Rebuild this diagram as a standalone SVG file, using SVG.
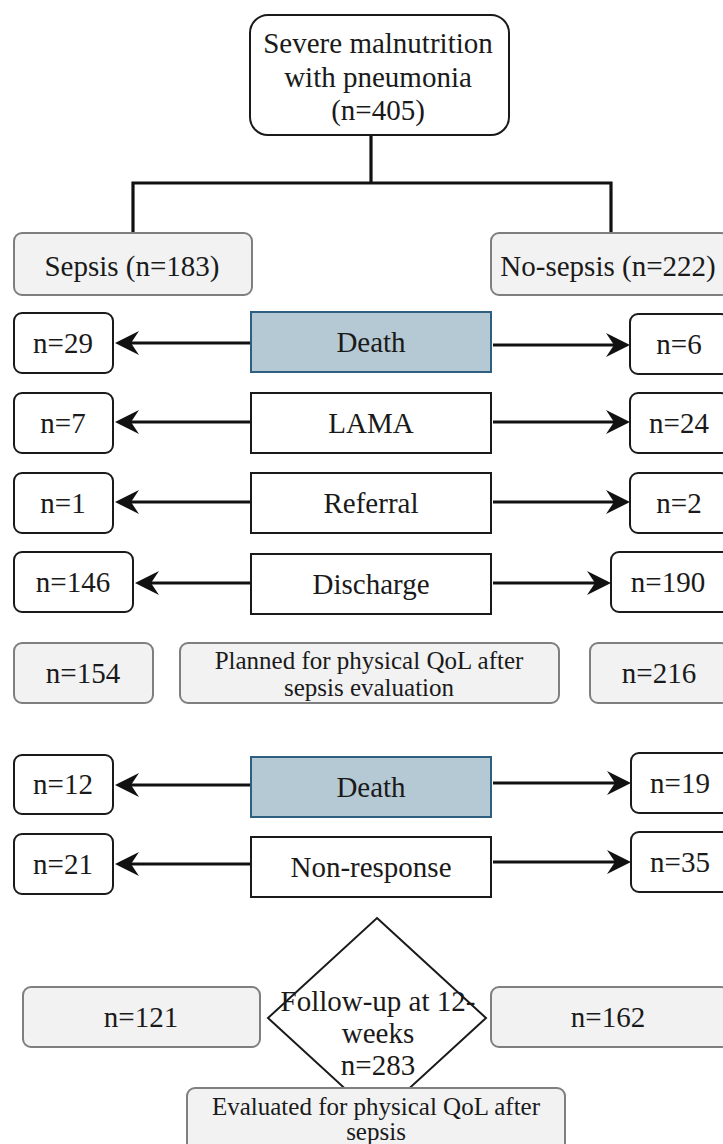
<svg xmlns="http://www.w3.org/2000/svg" width="723" height="1144" viewBox="0 0 723 1144">
<style>
text{font-family:"Liberation Serif","DejaVu Serif",serif;fill:#1a1a1a;text-anchor:middle}
.big{font-size:29px}
.sm{font-size:25px}
.nb{fill:#fff;stroke:#1a1a1a;stroke-width:2}
.gb{fill:#f2f2f2;stroke:#7f7f7f;stroke-width:2}
.db{fill:#b5c9d5;stroke:#2f5f80;stroke-width:2}
.wb{fill:#fff;stroke:#1a1a1a;stroke-width:2}
.ln{fill:none;stroke:#111;stroke-width:3.2}
.ar{fill:none;stroke:#111;stroke-width:3.2;marker-end:url(#ah)}
</style>
<defs>
<marker id="ah" viewBox="0 -12 24 24" refX="8" refY="0" markerWidth="24" markerHeight="24" markerUnits="userSpaceOnUse" orient="auto">
<path d="M24,0 L0,-12 L8,0 L0,12 Z" fill="#111"/>
</marker>
</defs>
<rect width="723" height="1144" fill="#fff"/>

<g id="connectors">
<path class="ln" d="M371,135 V183 M133,183 H611 M133,181.5 V233 M611,181.5 V233"/>
<line class="ar" x1="251" y1="343" x2="131" y2="343"/>
<line class="ar" x1="493" y1="345" x2="614" y2="345"/>
<line class="ar" x1="251" y1="422" x2="131" y2="422"/>
<line class="ar" x1="493" y1="422" x2="614" y2="422"/>
<line class="ar" x1="251" y1="502" x2="131" y2="502"/>
<line class="ar" x1="493" y1="502" x2="614" y2="502"/>
<line class="ar" x1="251" y1="583" x2="151" y2="583"/>
<line class="ar" x1="493" y1="583" x2="595" y2="583"/>
<line class="ar" x1="251" y1="785" x2="131" y2="785"/>
<line class="ar" x1="493" y1="783" x2="615" y2="783"/>
<line class="ar" x1="251" y1="864" x2="131" y2="864"/>
<line class="ar" x1="493" y1="862" x2="615" y2="862"/>
</g>

<g id="root">
<rect x="250" y="15" width="259" height="120" rx="18" class="wb"/>
<text class="big" x="378" y="53">Severe malnutrition</text>
<text class="big" x="378" y="87">with pneumonia</text>
<text class="big" x="378" y="120">(n=405)</text>
</g>

<g id="sepsis"><rect x="14" y="233" width="238" height="62" rx="8" class="gb"/><text class="big" x="132" y="276">Sepsis (n=183)</text></g>
<g id="nosepsis"><rect x="491" y="233" width="238" height="62" rx="8" class="gb"/><text class="big" x="608" y="276">No-sepsis (n=222)</text></g>

<g id="death1"><rect x="251" y="312" width="240" height="60" class="db"/><text class="big" x="371" y="352">Death</text></g>
<g id="s-death1"><rect x="14" y="313" width="99" height="60" rx="8" class="nb"/><text class="big" x="63" y="353">n=29</text></g>
<g id="n-death1"><rect x="630" y="314" width="99" height="60" rx="8" class="nb"/><text class="big" x="679" y="354">n=6</text></g>

<g id="lama"><rect x="251" y="393" width="240" height="60" class="wb"/><text class="big" x="371" y="433">LAMA</text></g>
<g id="s-lama"><rect x="14" y="393" width="99" height="60" rx="8" class="nb"/><text class="big" x="63" y="433">n=7</text></g>
<g id="n-lama"><rect x="630" y="393" width="99" height="60" rx="8" class="nb"/><text class="big" x="679" y="433">n=24</text></g>

<g id="referral"><rect x="251" y="473" width="240" height="60" class="wb"/><text class="big" x="371" y="513">Referral</text></g>
<g id="s-referral"><rect x="14" y="473" width="99" height="60" rx="8" class="nb"/><text class="big" x="63" y="513">n=1</text></g>
<g id="n-referral"><rect x="630" y="473" width="99" height="60" rx="8" class="nb"/><text class="big" x="679" y="513">n=2</text></g>

<g id="discharge"><rect x="251" y="554" width="240" height="60" class="wb"/><text class="big" x="371" y="594">Discharge</text></g>
<g id="s-discharge"><rect x="14" y="552" width="119" height="60" rx="8" class="nb"/><text class="big" x="73" y="592">n=146</text></g>
<g id="n-discharge"><rect x="611" y="552" width="119" height="60" rx="8" class="nb"/><text class="big" x="668" y="592">n=190</text></g>

<g id="s-planned"><rect x="14" y="643" width="139" height="60" rx="8" class="gb"/><text class="big" x="83" y="683">n=154</text></g>
<g id="planned"><rect x="180" y="643" width="379" height="60" rx="8" class="gb"/><text class="sm" x="369" y="669">Planned for physical QoL after</text><text class="sm" x="369" y="696">sepsis evaluation</text></g>
<g id="n-planned"><rect x="590" y="643" width="139" height="60" rx="8" class="gb"/><text class="big" x="659" y="683">n=216</text></g>

<g id="death2"><rect x="251" y="757" width="240" height="60" class="db"/><text class="big" x="371" y="797">Death</text></g>
<g id="s-death2"><rect x="14" y="755" width="99" height="59" rx="8" class="nb"/><text class="big" x="63" y="794">n=12</text></g>
<g id="n-death2"><rect x="631" y="753" width="99" height="60" rx="8" class="nb"/><text class="big" x="680" y="793">n=19</text></g>

<g id="nonresp"><rect x="251" y="837" width="240" height="60" class="wb"/><text class="big" x="371" y="877">Non-response</text></g>
<g id="s-nonresp"><rect x="14" y="834" width="99" height="60" rx="8" class="nb"/><text class="big" x="63" y="874">n=21</text></g>
<g id="n-nonresp"><rect x="631" y="832" width="99" height="60" rx="8" class="nb"/><text class="big" x="680" y="872">n=35</text></g>

<g id="s-followup"><rect x="23" y="987" width="237" height="60" rx="8" class="gb"/><text class="big" x="141" y="1027">n=121</text></g>
<g id="n-followup"><rect x="491" y="987" width="238" height="60" rx="8" class="gb"/><text class="big" x="608" y="1027">n=162</text></g>

<g id="followup">
<polygon points="377,918 486,1018 377,1118 268,1018" fill="#fff" stroke="#1a1a1a" stroke-width="2"/>
<text class="big" x="378" y="1011">Follow-up at 12-</text>
<text class="big" x="378" y="1043">weeks</text>
<text class="big" x="378" y="1075">n=283</text>
</g>

<g id="evaluated"><rect x="187" y="1088" width="378" height="72" rx="8" class="gb"/><text class="sm" x="376" y="1115">Evaluated for physical QoL after</text><text class="sm" x="376" y="1140">sepsis</text></g>
</svg>
